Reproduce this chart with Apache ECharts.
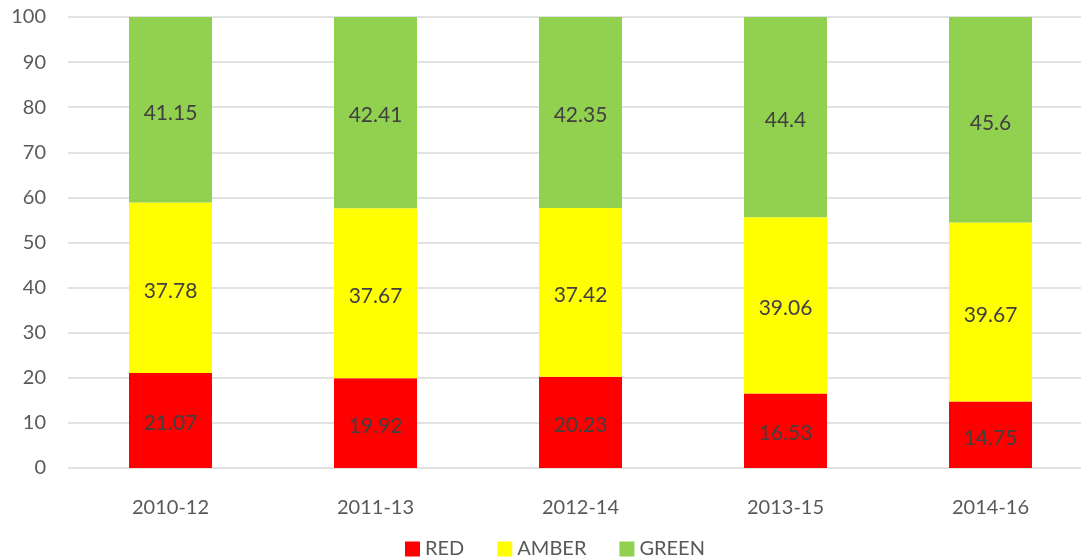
<!DOCTYPE html>
<html><head><meta charset="utf-8">
<script src="https://cdn.jsdelivr.net/npm/echarts@6/dist/echarts.min.js"></script>
<style>html,body{margin:0;padding:0;background:#fff;overflow:hidden}#c{width:1093px;height:558px}</style>
</head><body><div id="c"></div>
<script>
const categories = ['2010-12','2011-13','2012-14','2013-15','2014-16'];
const red = [21.07, 19.92, 20.23, 16.53, 14.75];
const amber = [37.78, 37.67, 37.42, 39.06, 39.67];
const green = [41.15, 42.41, 42.35, 44.4, 45.6];
const yTicks = {min: 0, max: 100, interval: 10};
const font = 'Lato, "Open Sans", sans-serif';
const chart = echarts.init(document.getElementById('c'));
function s(name, data, color) {
  return {name, type:'bar', stack:'t', data, barWidth:83,
    itemStyle:{color},
    label:{show:true, position:'inside', offset:[0,3], color:'#404040', fontSize:21, fontFamily:font}};
}
chart.setOption({
  animation:false,
  grid:{left:68, right:0, top:17, bottom:90},
  legend:{top:538, left:405, padding:0, itemWidth:15, itemHeight:15, itemGap:33, icon:'rect',
    textStyle:{color:'#595959', fontSize:20, fontFamily:font, lineHeight:22},
    data:['RED','AMBER','GREEN']},
  xAxis:{type:'category', data:categories,
    axisLine:{show:false}, axisTick:{show:false},
    axisLabel:{color:'#595959', fontSize:20, fontFamily:font, margin:30}},
  yAxis:{type:'value', min:yTicks.min, max:yTicks.max, interval:yTicks.interval,
    axisLine:{show:false}, axisTick:{show:false},
    axisLabel:{color:'#595959', fontSize:20, fontFamily:font, margin:22},
    splitLine:{lineStyle:{color:'#d9d9d9', width:1.5}}},
  series:[s('RED', red, '#ff0000'), s('AMBER', amber, '#ffff00'), s('GREEN', green, '#92d050')]
});
</script></body></html>
